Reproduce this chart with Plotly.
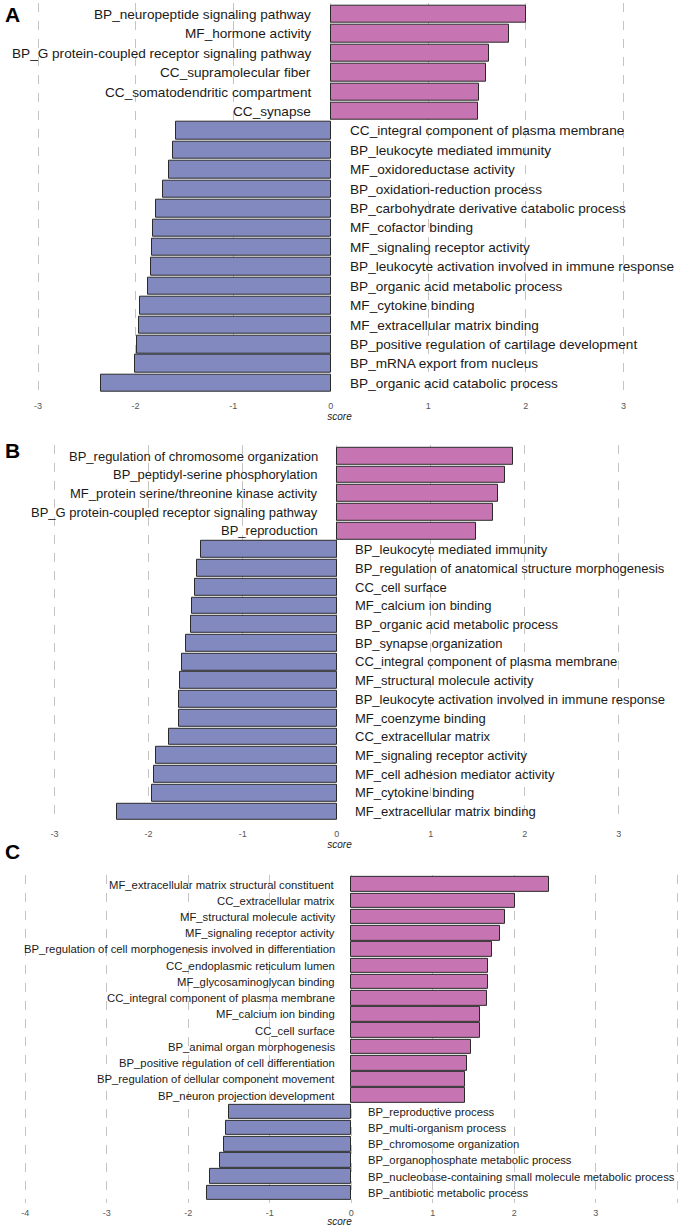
import plotly.graph_objects as go

# ---- data ----
a_terms = [
    'BP_neuropeptide signaling pathway', 'MF_hormone activity',
    'BP_G protein-coupled receptor signaling pathway', 'CC_supramolecular fiber',
    'CC_somatodendritic compartment', 'CC_synapse',
    'CC_integral component of plasma membrane', 'BP_leukocyte mediated immunity',
    'MF_oxidoreductase activity', 'BP_oxidation-reduction process',
    'BP_carbohydrate derivative catabolic process', 'MF_cofactor binding',
    'MF_signaling receptor activity', 'BP_leukocyte activation involved in immune response',
    'BP_organic acid metabolic process', 'MF_cytokine binding',
    'MF_extracellular matrix binding', 'BP_positive regulation of cartilage development',
    'BP_mRNA export from nucleus', 'BP_organic acid catabolic process',
]
a_scores = [2.00, 1.83, 1.62, 1.59, 1.52, 1.51,
            -1.59, -1.62, -1.66, -1.72, -1.79, -1.82, -1.83, -1.84,
            -1.87, -1.95, -1.97, -1.99, -2.01, -2.35]

b_terms = [
    'BP_regulation of chromosome organization', 'BP_peptidyl-serine phosphorylation',
    'MF_protein serine/threonine kinase activity',
    'BP_G protein-coupled receptor signaling pathway', 'BP_reproduction',
    'BP_leukocyte mediated immunity', 'BP_regulation of anatomical structure morphogenesis',
    'CC_cell surface', 'MF_calcium ion binding', 'BP_organic acid metabolic process',
    'BP_synapse organization', 'CC_integral component of plasma membrane',
    'MF_structural molecule activity', 'BP_leukocyte activation involved in immune response',
    'MF_coenzyme binding', 'CC_extracellular matrix', 'MF_signaling receptor activity',
    'MF_cell adhesion mediator activity', 'MF_cytokine binding',
    'MF_extracellular matrix binding',
]
b_scores = [1.87, 1.79, 1.72, 1.66, 1.48,
            -1.44, -1.48, -1.51, -1.54, -1.55, -1.60, -1.65, -1.67, -1.68,
            -1.68, -1.78, -1.92, -1.94, -1.96, -2.34]

c_terms = [
    'MF_extracellular matrix structural constituent', 'CC_extracellular matrix',
    'MF_structural molecule activity', 'MF_signaling receptor activity',
    'BP_regulation of cell morphogenesis involved in differentiation',
    'CC_endoplasmic reticulum lumen', 'MF_glycosaminoglycan binding',
    'CC_integral component of plasma membrane', 'MF_calcium ion binding',
    'CC_cell surface', 'BP_animal organ morphogenesis',
    'BP_positive regulation of cell differentiation',
    'BP_regulation of cellular component movement', 'BP_neuron projection development',
    'BP_reproductive process', 'BP_multi-organism process', 'BP_chromosome organization',
    'BP_organophosphate metabolic process',
    'BP_nucleobase-containing small molecule metabolic process',
    'BP_antibiotic metabolic process',
]
c_scores = [2.43, 2.01, 1.89, 1.82, 1.73, 1.68, 1.68, 1.66, 1.58, 1.58,
            1.47, 1.42, 1.40, 1.39,
            -1.50, -1.54, -1.56, -1.61, -1.73, -1.77]

panel_letters = ['A', 'B', 'C']
ab_ticks = [-3, -2, -1, 0, 1, 2, 3]
c_ticks = [-4, -3, -2, -1, 0, 1, 2, 3, 4]

# ---- styling ----
W, H = 679, 1227
PINK = '#c674b2'
BLUE = '#8189bf'
FONT = 'Liberation Sans, Arial, sans-serif'

# suffix, x range, y domain, label size, letter y (px from top), ticks
layout_specs = [
    ('', [-3.39, 3.57], [0.6781, 0.9978], 13.6, 14, ab_ticks),
    ('2', [-3.58, 3.64], [0.3293, 0.6375], 13.0, 450, ab_ticks),
    ('3', [-4.31, 4.02], [0.0199, 0.2870], 11.3, 851, c_ticks),
]

fig = go.Figure()
annotations = []

for (terms, scores), letter, spec in zip(
        [(a_terms, a_scores), (b_terms, b_scores), (c_terms, c_scores)],
        panel_letters, layout_specs):
    sfx, xr, ydom, fsize, letter_y, tv = spec
    colors = [PINK if s > 0 else BLUE for s in scores]
    fig.add_trace(go.Bar(
        x=scores, y=terms, orientation='h', width=0.9,
        marker=dict(color=colors, line=dict(color='#2a2a2a', width=1)),
        xaxis='x' + sfx, yaxis='y' + sfx, showlegend=False))

    for t, s in zip(terms, scores):
        annotations.append(dict(
            x=-0.2 if s > 0 else 0.2, y=t,
            xref='x' + sfx, yref='y' + sfx,
            text=t, showarrow=False,
            xanchor='right' if s > 0 else 'left', yanchor='middle',
            borderpad=0, borderwidth=0,
            font=dict(family=FONT, size=fsize, color='#1a1a1a')))

    annotations.append(dict(
        x=12 / W, y=1 - letter_y / H, xref='paper', yref='paper',
        text='<b>%s</b>' % letter, showarrow=False,
        xanchor='center', yanchor='middle',
        font=dict(family=FONT, size=21, color='black')))

    n = len(terms)
    fig.layout['xaxis' + sfx] = dict(
        domain=[0, 1], range=xr, anchor='y' + sfx,
        tickmode='array', tickvals=tv, ticktext=[str(v) for v in tv],
        showgrid=True, gridcolor='#c4c4c4',
        griddash='dash', gridwidth=1, zeroline=False, showline=False,
        ticks='outside', ticklen=2, tickcolor='rgba(0,0,0,0)',
        tickfont=dict(family=FONT, size=9, color='#555555'),
        title=dict(text='score', standoff=1,
                   font=dict(family=FONT, size=10, color='#222222', style='italic')),
        fixedrange=True)
    fig.layout['yaxis' + sfx] = dict(
        domain=ydom, anchor='x' + sfx, type='category',
        categoryorder='array', categoryarray=terms,
        range=[n - 1 + 0.6, -0.6], showticklabels=False,
        showgrid=False, zeroline=False, showline=False, ticks='',
        fixedrange=True)

fig.update_layout(
    width=W, height=H,
    margin=dict(l=0, r=0, t=0, b=0),
    paper_bgcolor='white', plot_bgcolor='white',
    annotations=annotations, bargap=0,
)

# drop the browser's default 8px body margin so the figure sits at 0,0
fig.write_html("out.html", config={'displayModeBar': False},
               post_script="document.body.style.margin='0';")
